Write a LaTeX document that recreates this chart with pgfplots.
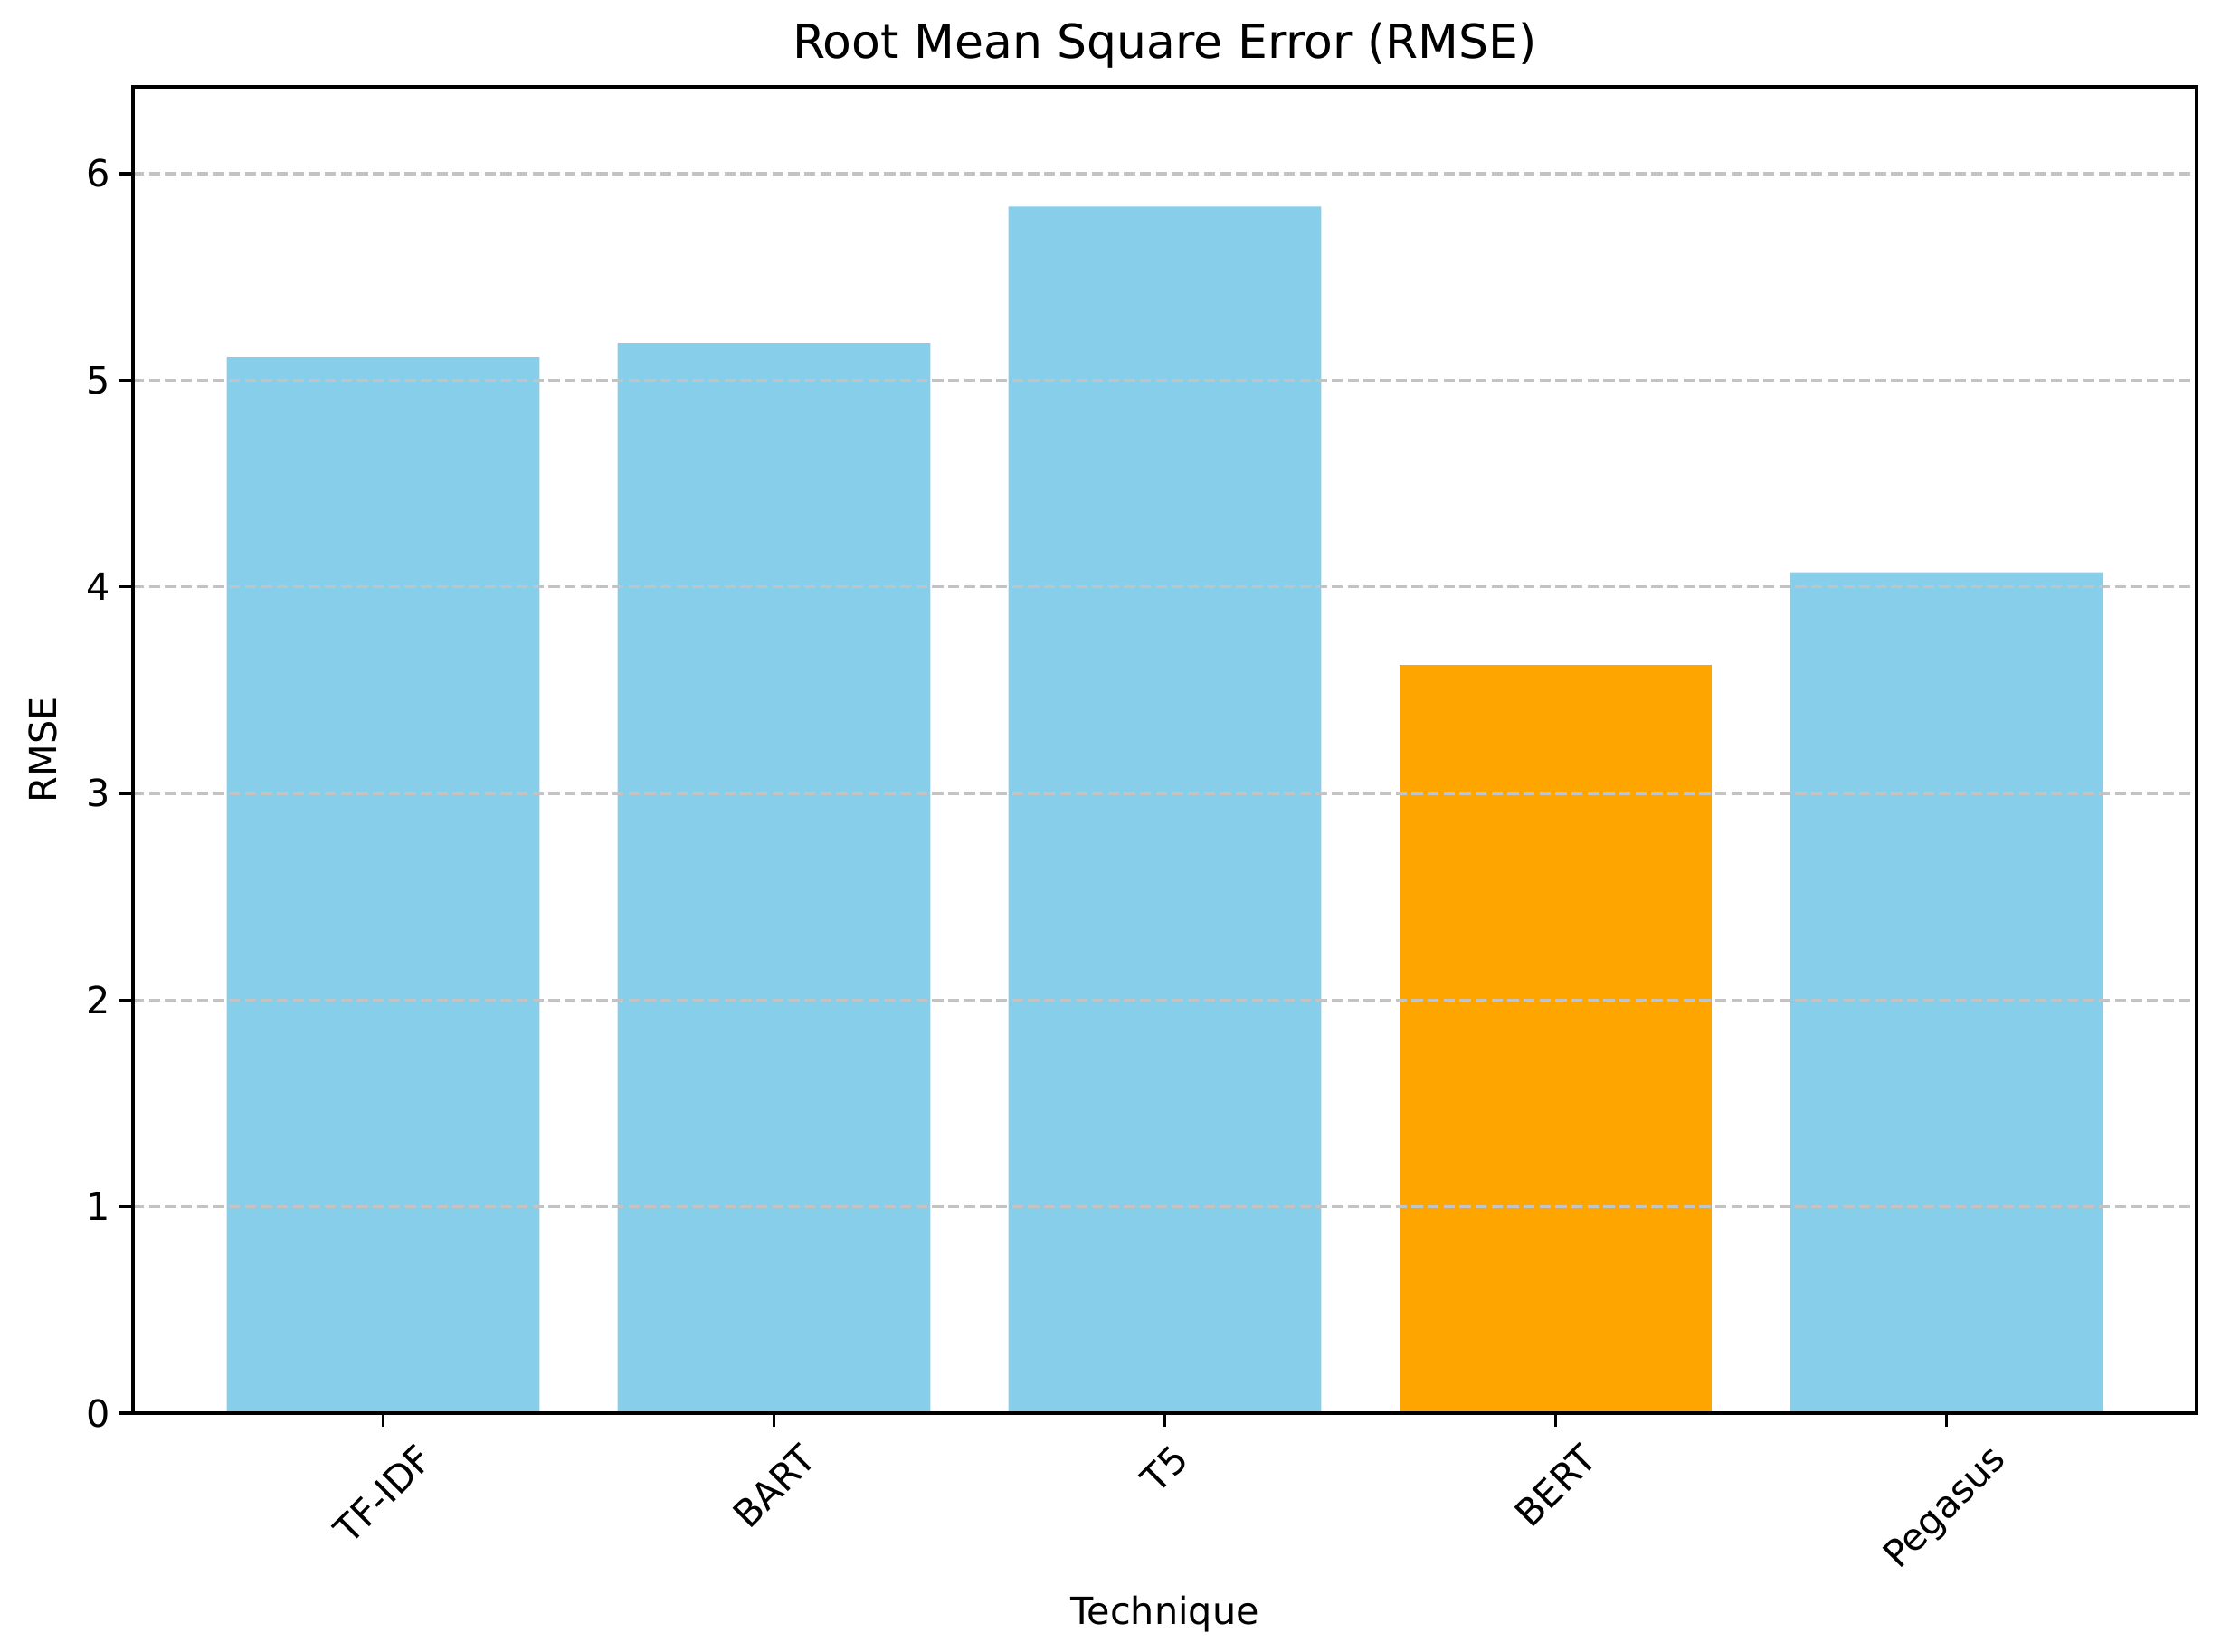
\documentclass[border=0pt]{standalone}
\usepackage{fontspec}
\setmainfont{DejaVu Sans}
\usepackage{graphicx}
\usepackage{pgfplots}
\pgfplotsset{compat=1.18}
\definecolor{skyblue}{RGB}{135,206,235}
\definecolor{barorange}{RGB}{255,165,0}
\definecolor{gridgray}{RGB}{195,195,195}
\begin{document}
\begin{tikzpicture}
\begin{axis}[
  at={(0,0)}, anchor=south west,
  width=684.3pt, height=439.8pt, scale only axis,
  xmin=-0.64, xmax=4.64, ymin=0, ymax=6.42,
  ybar, bar width=0.8, bar shift=0pt,
  axis on top,
  axis line style={line width=1pt},
  tick style={line width=1pt, black},
  tick align=outside, major tick length=4.5pt,
  xtick pos=bottom, ytick pos=left,
  xtick={0,1,2,3,4},
  xticklabels={\rotatebox{45}{TF-IDF},\rotatebox{45}{BART},\rotatebox{45}{T5},\rotatebox{45}{BERT},\rotatebox{45}{Pegasus}},
  x tick label style={anchor=north, inner sep=0pt, yshift=-5pt},
  ytick={0,1,2,3,4,5,6},
  y tick label style={anchor=east, inner sep=0pt, xshift=-3pt},
  tick label style={font=\fontsize{12.4}{14}\selectfont},
  /pgf/number format/assume math mode=true,
  ymajorgrids,
  major grid style={gridgray, line width=1pt, dash pattern=on 3.7pt off 1.6pt},
  title={Root Mean Square Error (RMSE)},
  title style={font=\fontsize{15.6}{18}\selectfont, at={(axis description cs:0.5,1)}, anchor=base, yshift=3.4pt},
  xlabel={Technique},
  ylabel={RMSE},
  label style={font=\fontsize{12.4}{14}\selectfont},
  xlabel style={at={(axis description cs:0.5,0)}, anchor=base, yshift=-70pt},
  ylabel style={at={(axis description cs:0,0.5)}, anchor=center, yshift=30pt},
]
\addplot[fill=skyblue, draw=none] coordinates {(0,5.11) (1,5.18) (2,5.84) (4,4.07)};
\addplot[fill=barorange, draw=none] coordinates {(3,3.62)};
\end{axis}
\useasboundingbox (-44.1pt,-79.2pt) rectangle (695.7pt,468.6pt);
\end{tikzpicture}
\end{document}
